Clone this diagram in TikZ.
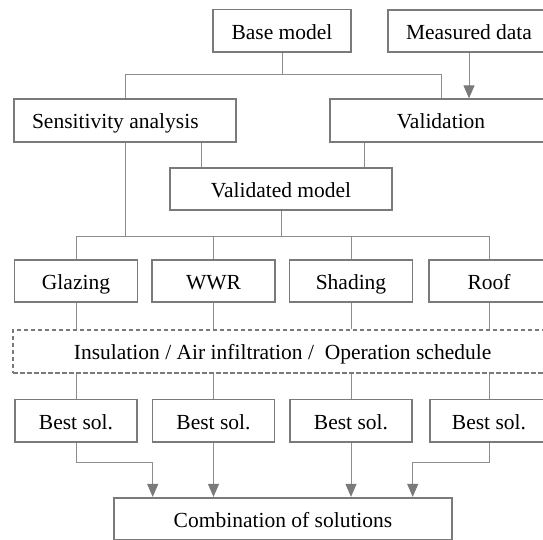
\documentclass[tikz,border=0pt]{standalone}
\usepackage{fontspec}
\setmainfont{Liberation Serif}
\usetikzlibrary{arrows.meta}
\pgfdeclarelayer{edgelayer}
\pgfdeclarelayer{nodelayer}
\pgfsetlayers{edgelayer,nodelayer,main}
\definecolor{boxgray}{RGB}{122,122,122}
\definecolor{linegray}{RGB}{140,140,140}
\tikzstyle{box}=[rectangle,draw=boxgray,fill=white,line width=1.8pt,minimum height=42.5pt,inner sep=0pt,text height=18pt,text depth=1.4pt,font=\fontsize{21.5}{25}\selectfont]
\tikzstyle{dashbox}=[box,dash pattern=on 4.5pt off 2.5pt,line width=1.5pt]
\tikzstyle{edge}=[draw=linegray,line width=1pt]
\tikzstyle{arrowedge}=[edge,-{Triangle[width=11pt,length=13pt,color=boxgray]}]

\begin{document}
\begin{tikzpicture}[x=1pt,y=-1pt]
				\useasboundingbox (0,0) rectangle (543,539);
					\begin{pgfonlayer}{nodelayer}
						\node [style=box,minimum width=137.4pt] (base) at (282,30.8) {Base model};
						\node [style=box,minimum width=162pt] (measured) at (469,31) {Measured data};
						\node [style=box,text width=186pt,align=flush left,inner xsep=17.7pt] (sens) at (125,120.5) {Sensitivity analysis};
						\node [style=box,minimum width=221.4pt] (valid) at (441,120.5) {Validation};
						\node [style=box,minimum width=221.4pt] (vmodel) at (281,189) {Validated model};
						\node [style=box,minimum width=123pt] (glazing) at (76,281) {Glazing};
						\node [style=box,minimum width=123pt] (wwr) at (213.5,281) {WWR};
						\node [style=box,minimum width=123pt] (shading) at (351,281) {Shading};
						\node [style=box,minimum width=120pt] (roof) at (489,281) {Roof};
						\node [style=dashbox,minimum width=539pt,minimum height=43pt] (ins) at (282.6,351.3) {Insulation / Air infiltration /~ Operation schedule};
						\node [style=box,minimum width=122pt] (best1) at (76,420.8) {Best sol.};
						\node [style=box,minimum width=122pt] (best2) at (213.5,420.8) {Best sol.};
						\node [style=box,minimum width=122pt] (best3) at (351,420.8) {Best sol.};
						\node [style=box,minimum width=118pt] (best4) at (489,420.8) {Best sol.};
						\node [style=box,minimum width=337.6pt] (combo) at (283,519) {Combination of solutions};
					\end{pgfonlayer}
					\begin{pgfonlayer}{edgelayer}
						\draw [style=edge] (base.south) -- ++(0,22) -| (sens.north);
						\draw [style=edge] (base.south) ++(0,22) -| (valid.north);
						\draw [style=arrowedge] (measured.south) -- (valid.north -| measured.south);
						\draw [style=edge] (201.7,0 |- sens.south) -- (201.7,0 |- vmodel.north);
						\draw [style=edge] (364.3,0 |- valid.south) -- (364.3,0 |- vmodel.north);
						\draw [style=edge] (vmodel.south) -- ++(0,25.5) coordinate (hub);
						\draw [style=edge] (sens.south) |- (hub);
						\draw [style=edge] (glazing.north) |- (hub) -| (roof.north);
						\draw [style=edge] (wwr.north) -- (wwr.north |- hub);
						\draw [style=edge] (shading.north) -- (shading.north |- hub);
						\foreach \n/\m in {glazing/best1,wwr/best2,shading/best3,roof/best4} {
							\draw [style=edge] (\n.south) -- (\n.south |- ins.north);
							\draw [style=edge] (\m.north |- ins.south) -- (\m.north);
						}
						\coordinate (in1) at (152.7,0 |- combo.north);
						\coordinate (in4) at (412.7,0 |- combo.north);
						\draw [style=arrowedge] (best1.south) -- ++(0,20) -| (in1);
						\draw [style=arrowedge] (best2.south) -- (best2.south |- combo.north);
						\draw [style=arrowedge] (best3.south) -- (best3.south |- combo.north);
						\draw [style=arrowedge] (best4.south) -- ++(0,20) -| (in4);
					\end{pgfonlayer}
				\end{tikzpicture}
\end{document}
